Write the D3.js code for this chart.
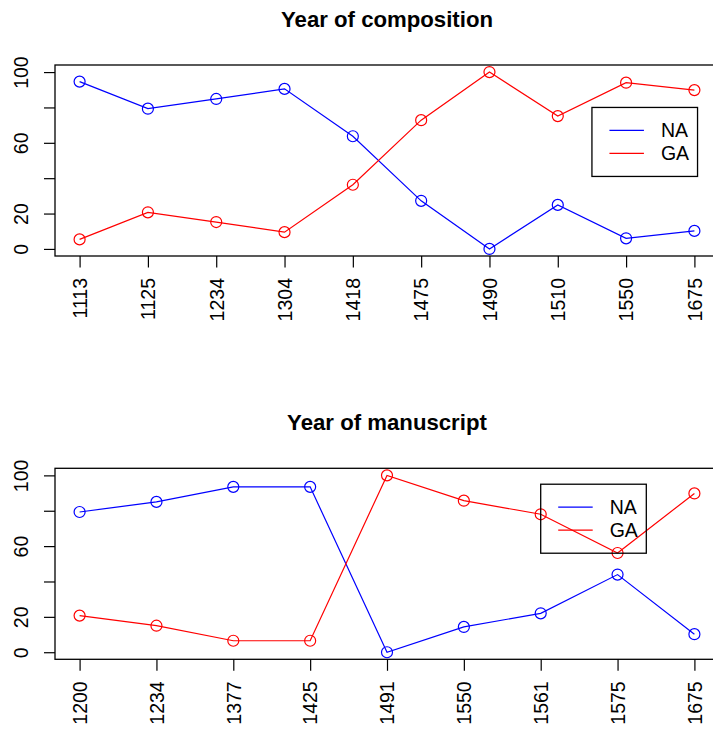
<!DOCTYPE html>
<html>
<head>
<meta charset="utf-8">
<script src="https://cdn.jsdelivr.net/npm/d3@7"></script>
<style>
  body { margin: 0; background: #fff; }
  svg { display: block; font-family: "Liberation Sans", Arial, Helvetica, sans-serif; }
</style>
</head>
<body>
<div id="chart"></div>
<script>
'use strict';

// ---- data ----
let comp_years = ['1113', '1125', '1234', '1304', '1418', '1475', '1490', '1510', '1550', '1675'];
let comp_na = [94.6, 79.3, 84.8, 90.5, 63.7, 27.2, 0, 24.9, 6.0, 10.2];
let comp_ga = [5.4, 20.7, 15.2, 9.5, 36.3, 72.8, 100, 75.1, 94.0, 89.8];

let ms_years = ['1200', '1234', '1377', '1425', '1491', '1550', '1561', '1575', '1675'];
let ms_na = [79.3, 85.0, 93.5, 93.5, 0, 14.3, 22.0, 43.9, 10.2];
let ms_ga = [20.7, 15.0, 6.5, 6.5, 100, 85.7, 78.0, 56.1, 89.8];

let series_names = ['NA', 'GA'];
let series_colours = ['#0000ff', '#ff0000'];

let y_ticks = [0, 20, 40, 60, 80, 100];
let y_labelled = [0, 20, 60, 100];   // R drops the overlapping ones

let width = 713, height = 729;
let font_size = 19.5;

let svg = d3.select('#chart')
    .append('svg')
    .attr('width', width)
    .attr('height', height);

// one panel of the figure; legend_at is in data units (x index, y value)
let draw_panel = function(top, title, years, na, ga, legend_at) {
    let left = 55, right = 719, bottom = top + 191;
    let n = years.length;
    let pad = 0.04 * (n - 1);

    let x = d3.scaleLinear().domain([1 - pad, n + pad]).range([left, right]);
    let y = d3.scaleLinear().domain([-4, 104]).range([bottom, top]);

    let g = svg.append('g');

    g.append('text')
        .attr('x', (left + right) / 2)
        .attr('y', top - 38.5)
        .attr('text-anchor', 'middle')
        .attr('font-size', 22.2)
        .attr('font-weight', 'bold')
        .text(title);

    // y axis, labels parallel to the axis
    let ya = g.append('g')
        .attr('transform', 'translate(' + left + ',0)')
        .call(d3.axisLeft(y).tickValues(y_ticks).tickSize(11)
            .tickFormat(function(d) { return y_labelled.indexOf(d) >= 0 ? d : ''; }));
    ya.select('.domain').remove();
    ya.selectAll('line').attr('stroke', '#000').attr('stroke-width', 1.2);
    ya.selectAll('text')
        .attr('transform', 'rotate(-90)')
        .attr('x', 0).attr('y', -27).attr('dy', 0)
        .attr('text-anchor', 'middle')
        .attr('font-size', font_size)
        .attr('font-family', null)
        .attr('fill', '#000');

    // x axis, labels perpendicular
    let xa = g.append('g')
        .attr('transform', 'translate(0,' + bottom + ')')
        .call(d3.axisBottom(x).tickValues(d3.range(1, n + 1)).tickSize(11.5)
            .tickFormat(function(d) { return years[d - 1]; }));
    xa.select('.domain').remove();
    xa.selectAll('line').attr('stroke', '#000').attr('stroke-width', 1.2);
    xa.selectAll('text')
        .attr('transform', 'rotate(-90)')
        .attr('x', -22).attr('y', 0).attr('dy', '0.35em')
        .attr('text-anchor', 'end')
        .attr('font-size', font_size)
        .attr('font-family', null)
        .attr('fill', '#000');

    // plot box
    g.append('rect')
        .attr('x', left).attr('y', top)
        .attr('width', right - left).attr('height', bottom - top)
        .attr('fill', 'none')
        .attr('stroke', '#000')
        .attr('stroke-width', 1.3);

    let line = d3.line()
        .x(function(d, i) { return x(i + 1); })
        .y(function(d) { return y(d); });

    [na, ga].forEach(function(vals, s) {
        g.append('path')
            .datum(vals)
            .attr('d', line)
            .attr('fill', 'none')
            .attr('stroke', series_colours[s])
            .attr('stroke-width', 1.2);
        g.selectAll(null)
            .data(vals)
            .enter().append('circle')
            .attr('cx', function(d, i) { return x(i + 1); })
            .attr('cy', function(d) { return y(d); })
            .attr('r', 5.5)
            .attr('fill', 'none')
            .attr('stroke', series_colours[s])
            .attr('stroke-width', 1.2);
    });

    // legend (no fill, data lines show through like in the original)
    let lx = x(legend_at[0]), ly = y(legend_at[1]);
    let leg = g.append('g').attr('transform', 'translate(' + lx + ',' + ly + ')');
    leg.append('rect')
        .attr('width', 105.6).attr('height', 69)
        .attr('fill', 'none')
        .attr('stroke', '#000')
        .attr('stroke-width', 1.3);
    series_names.forEach(function(name, s) {
        let ry = 23 + s * 23;
        leg.append('line')
            .attr('x1', 17.5).attr('x2', 52)
            .attr('y1', ry).attr('y2', ry)
            .attr('stroke', series_colours[s])
            .attr('stroke-width', 1.2);
        leg.append('text')
            .attr('x', 69).attr('y', ry + 7)
            .attr('font-size', font_size)
            .text(name);
    });
}

draw_panel(65, 'Year of composition', comp_years, comp_na, comp_ga, [8.5, 80]);
draw_panel(468.3, 'Year of manuscript', ms_years, ms_na, ms_ga, [7.0, 95]);
</script>
</body>
</html>
